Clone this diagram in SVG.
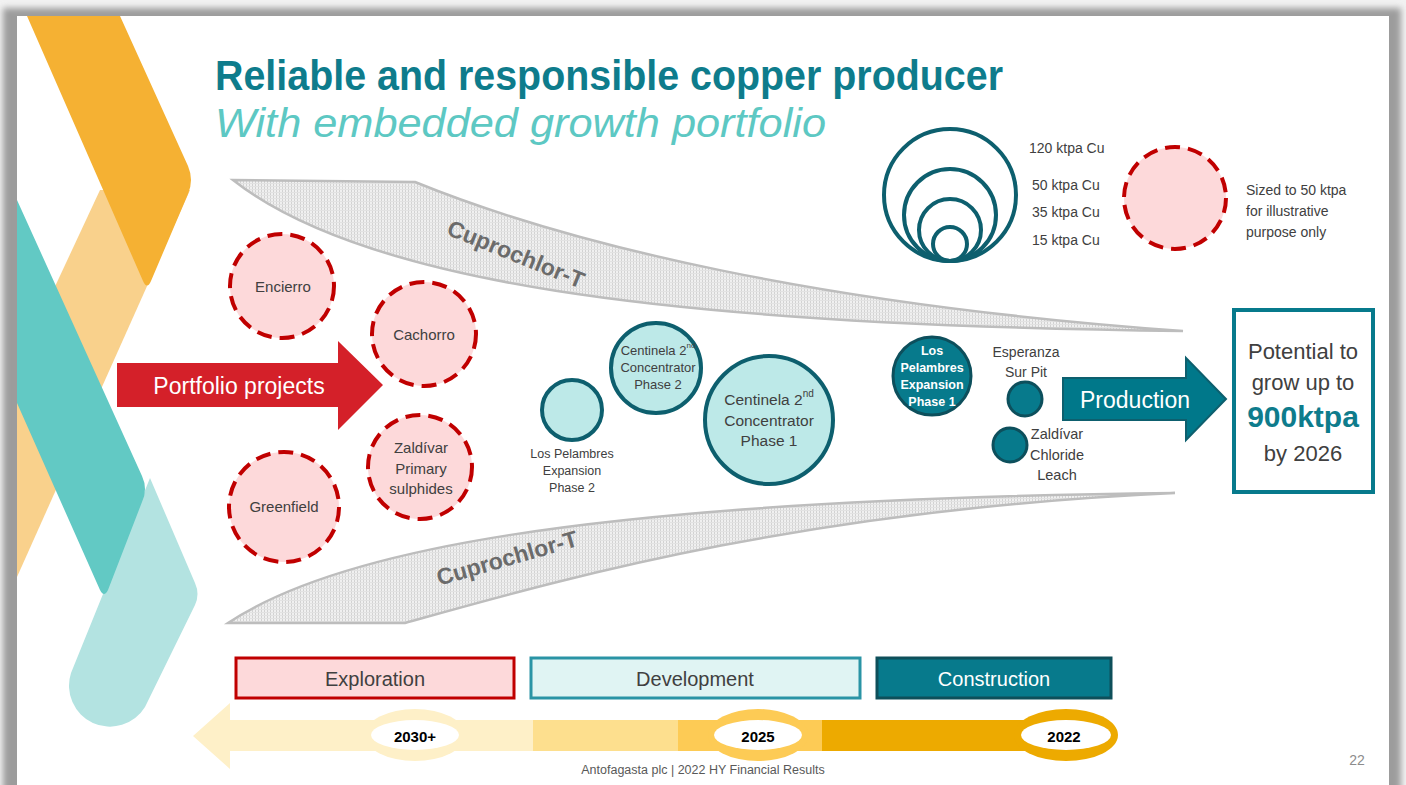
<svg xmlns="http://www.w3.org/2000/svg" width="1406" height="785" viewBox="0 0 1406 785">
  <defs>
    <filter id="frameBlur" x="-5%" y="-5%" width="110%" height="110%">
      <feGaussianBlur stdDeviation="3"/>
    </filter>
    <pattern id="hatch" width="3" height="3" patternUnits="userSpaceOnUse">
      <rect width="3" height="3" fill="#f0f0f0"/>
      <rect width="1" height="3" fill="#d2d2d2"/>
      <rect width="3" height="1" fill="#e2e2e2"/>
    </pattern>
    <clipPath id="slideClip">
      <rect x="17" y="16" width="1372" height="769"/>
    </clipPath>
  </defs>
  <style>
    text { font-family: "Liberation Sans", Arial, sans-serif; }
    .lbl { fill: #404040; font-size: 15px; text-anchor: middle; dominant-baseline: central; }
    .expl { fill: #fdd9da; stroke: #c00000; stroke-width: 4; stroke-dasharray: 15 8; }
    .dev { fill: #bde9e8; stroke: #0d5f6e; stroke-width: 4; }
    .con { fill: #077a8c; stroke: #0d4f5c; stroke-width: 3; }
    .ring { fill: none; stroke: #0d5f6e; stroke-width: 4; }
    .band { fill: url(#hatch); stroke: #bdbdbd; stroke-width: 2.5; }
    .bandtxt { fill: #6b6b6b; font-weight: bold; font-size: 23px; text-anchor: middle; dominant-baseline: central; }
    .white { fill: #ffffff; text-anchor: middle; dominant-baseline: central; }
    .year { fill: #000000; font-weight: bold; font-size: 15px; text-anchor: middle; dominant-baseline: central; }
    .phase { font-size: 20px; text-anchor: middle; dominant-baseline: central; }
  </style>

  <!-- slide frame with soft shadow -->
  <rect width="1406" height="785" fill="#f2f2f2"/>
  <rect x="3" y="8" width="1398" height="800" fill="#9c9c9c" filter="url(#frameBlur)"/>
  <rect x="17" y="16" width="1372" height="780" fill="#ffffff"/>

  <!-- ribbon decoration on the left -->
  <g id="ribbons" clip-path="url(#slideClip)">
    <path fill="#f9d18c" d="M100,190 L190,190 L17,577 L17,368 Z"/>
    <path fill="#f5b133" d="M27,16 L120,16 L188,166 Q194,180 188,194 L151,281 Q147,290 143,281 Z"/>
    <path fill="#b3e3e1" d="M150,478 L195,583 Q200,594 195,605 L145,707 A41,41 0 0 1 71,673 Z"/>
    <path fill="#62c9c4" d="M17,200 L142,476 Q148,489 142,502 L108,590 Q104,598 100,590 L17,403 Z"/>
  </g>

  <!-- title -->
  <g id="title">
    <text x="215" y="90" font-size="42" font-weight="bold" fill="#0e7c8c" textLength="788" lengthAdjust="spacingAndGlyphs">Reliable and responsible copper producer</text>
    <text x="215" y="137" font-size="40" font-style="italic" fill="#5dc8c3" textLength="611" lengthAdjust="spacingAndGlyphs">With embedded growth portfolio</text>
  </g>

  <!-- Cuprochlor-T funnel bands -->
  <g id="band-upper">
    <path class="band" d="M233,180 L415,182 C570,245 820,305 1183,331 C650,325 360,280 233,180 Z"/>
    <text class="bandtxt" transform="translate(516,254) rotate(22)">Cuprochlor-T</text>
  </g>
  <g id="band-lower">
    <path class="band" d="M228,623 C330,555 560,500 1175,493 C800,510 560,580 405,623 Z"/>
    <text class="bandtxt" transform="translate(507,558) rotate(-16)">Cuprochlor-T</text>
  </g>

  <!-- size legend -->
  <g id="legend-sizes">
    <circle class="ring" cx="950" cy="195" r="66"/>
    <circle class="ring" cx="950" cy="215" r="46"/>
    <circle class="ring" cx="950" cy="230" r="31"/>
    <circle class="ring" cx="950" cy="244" r="17"/>
    <text class="lbl" style="text-anchor:start;font-size:14px" x="1029" y="148">120 ktpa Cu</text>
    <text class="lbl" style="text-anchor:start;font-size:14px" x="1032" y="185">50 ktpa Cu</text>
    <text class="lbl" style="text-anchor:start;font-size:14px" x="1032" y="212">35 ktpa Cu</text>
    <text class="lbl" style="text-anchor:start;font-size:14px" x="1032" y="240">15 ktpa Cu</text>
  </g>
  <g id="legend-illustrative">
    <circle class="expl" cx="1175" cy="198" r="51"/>
    <text class="lbl" style="text-anchor:start;font-size:14px" x="1246" y="190">Sized to 50 ktpa</text>
    <text class="lbl" style="text-anchor:start;font-size:14px" x="1246" y="211">for illustrative</text>
    <text class="lbl" style="text-anchor:start;font-size:14px" x="1246" y="232">purpose only</text>
  </g>

  <!-- portfolio arrow -->
  <g id="portfolio-projects">
    <path d="M117,363 H338 V341 L383,385 L338,430 V407 H117 Z" fill="#d42029"/>
    <text class="white" x="239" y="386" font-size="23">Portfolio projects</text>
  </g>

  <!-- exploration projects -->
  <g id="encierro">
    <circle class="expl" cx="282" cy="286" r="52"/>
    <text class="lbl" x="283" y="286">Encierro</text>
  </g>
  <g id="cachorro">
    <circle class="expl" cx="424" cy="334" r="52"/>
    <text class="lbl" x="424" y="334">Cachorro</text>
  </g>
  <g id="zaldivar-primary">
    <circle class="expl" cx="420" cy="467" r="52"/>
    <text class="lbl" x="421" y="447">Zaldívar</text>
    <text class="lbl" x="421" y="468">Primary</text>
    <text class="lbl" x="421" y="488">sulphides</text>
  </g>
  <g id="greenfield">
    <circle class="expl" cx="284" cy="507" r="55"/>
    <text class="lbl" x="284" y="506">Greenfield</text>
  </g>

  <!-- development projects -->
  <g id="los-pelambres-2">
    <circle class="dev" cx="572" cy="410" r="30"/>
    <text class="lbl" style="font-size:12.5px" x="572" y="454">Los Pelambres</text>
    <text class="lbl" style="font-size:12.5px" x="572" y="471">Expansion</text>
    <text class="lbl" style="font-size:12.5px" x="572" y="488">Phase 2</text>
  </g>
  <g id="centinela-2">
    <circle class="dev" cx="656" cy="368" r="45"/>
    <text class="lbl" style="font-size:13px" x="658" y="350">Centinela 2<tspan font-size="8" baseline-shift="super">nd</tspan></text>
    <text class="lbl" style="font-size:13px" x="658" y="367">Concentrator</text>
    <text class="lbl" style="font-size:13px" x="658" y="384">Phase 2</text>
  </g>
  <g id="centinela-1">
    <circle class="dev" cx="769" cy="420" r="64"/>
    <text class="lbl" style="font-size:15.5px" x="769" y="399">Centinela 2<tspan font-size="10" baseline-shift="super">nd</tspan></text>
    <text class="lbl" style="font-size:15.5px" x="769" y="420">Concentrator</text>
    <text class="lbl" style="font-size:15.5px" x="769" y="440">Phase 1</text>
  </g>

  <!-- construction projects -->
  <g id="los-pelambres-1">
    <circle class="con" cx="932" cy="376" r="39"/>
    <text class="white" font-size="12.5" font-weight="bold" x="932" y="351">Los</text>
    <text class="white" font-size="12.5" font-weight="bold" x="932" y="368">Pelambres</text>
    <text class="white" font-size="12.5" font-weight="bold" x="932" y="385">Expansion</text>
    <text class="white" font-size="12.5" font-weight="bold" x="932" y="402">Phase 1</text>
  </g>
  <g id="esperanza-sur">
    <circle class="con" cx="1025" cy="399" r="17"/>
    <text class="lbl" style="font-size:14px" x="1026" y="352">Esperanza</text>
    <text class="lbl" style="font-size:14px" x="1026" y="372">Sur Pit</text>
  </g>
  <g id="zaldivar-chloride">
    <circle class="con" cx="1010" cy="445" r="17"/>
    <text class="lbl" style="font-size:14.5px" x="1057" y="434">Zaldívar</text>
    <text class="lbl" style="font-size:14.5px" x="1057" y="455">Chloride</text>
    <text class="lbl" style="font-size:14.5px" x="1057" y="475">Leach</text>
  </g>

  <!-- production arrow -->
  <g id="production">
    <path d="M1063,378 H1186 V358 L1226,399 L1186,440 V420 H1063 Z" fill="#00788a" stroke="#0d5f6e" stroke-width="2"/>
    <text class="white" x="1135" y="400" font-size="23">Production</text>
  </g>

  <!-- target box -->
  <g id="target">
    <rect x="1234" y="310" width="139" height="182" fill="#ffffff" stroke="#077a8c" stroke-width="4"/>
    <text class="lbl" style="font-size:22px" x="1303" y="351">Potential to</text>
    <text class="lbl" style="font-size:22px" x="1303" y="382">grow up to</text>
    <text class="lbl" style="font-size:30px;font-weight:bold;fill:#0e7c8c" x="1303" y="416">900ktpa</text>
    <text class="lbl" style="font-size:22px" x="1303" y="453">by 2026</text>
  </g>

  <!-- stage boxes -->
  <g id="exploration">
    <rect x="236" y="658" width="278" height="40" fill="#fdd9da" stroke="#c00000" stroke-width="3"/>
    <text class="phase" fill="#404040" x="375" y="679">Exploration</text>
  </g>
  <g id="development">
    <rect x="531" y="658" width="329" height="40" fill="#e0f4f3" stroke="#2a94a5" stroke-width="3"/>
    <text class="phase" fill="#404040" x="695" y="679">Development</text>
  </g>
  <g id="construction">
    <rect x="877" y="658" width="234" height="40" fill="#077a8c" stroke="#0e4f5a" stroke-width="3"/>
    <text class="phase" fill="#ffffff" x="994" y="679">Construction</text>
  </g>

  <!-- timeline -->
  <g id="timeline">
    <path d="M193,736 L230,703 V720 H533 V751 H230 V769 Z" fill="#fef0c8"/>
    <rect x="533" y="720" width="145" height="31" fill="#fddf8e"/>
    <rect x="678" y="720" width="144" height="31" fill="#fdcb55"/>
    <rect x="822" y="720" width="283" height="31" fill="#edaa00"/>
    <ellipse cx="415" cy="735" rx="50" ry="26" fill="#fef0c8"/>
    <ellipse cx="415" cy="735" rx="44" ry="15" fill="#ffffff"/>
    <ellipse cx="758" cy="735" rx="50" ry="26" fill="#fdcb55"/>
    <ellipse cx="758" cy="735" rx="44" ry="15" fill="#ffffff"/>
    <ellipse cx="1066" cy="735" rx="52" ry="26" fill="#edaa00"/>
    <ellipse cx="1066" cy="735" rx="45" ry="15" fill="#ffffff"/>
    <text class="year" x="415" y="736">2030+</text>
    <text class="year" x="758" y="736">2025</text>
    <text class="year" x="1064" y="736">2022</text>
  </g>

  <!-- footer -->
  <text x="703" y="770" font-size="12.5" fill="#595959" text-anchor="middle" dominant-baseline="central">Antofagasta plc | 2022 HY Financial Results</text>
  <text x="1357" y="760" font-size="14" fill="#8c8c8c" text-anchor="middle" dominant-baseline="central">22</text>
</svg>
